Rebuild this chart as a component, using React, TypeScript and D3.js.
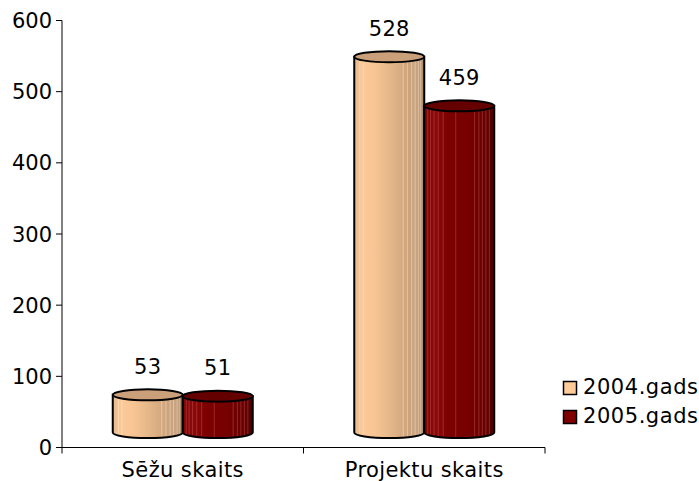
import React from "react";
import * as d3 from "d3";

const categories = ["Sēžu skaits", "Projektu skaits"];
const seriesNames = ["2004.gads", "2005.gads"];
const values2004 = [53, 528];
const values2005 = [51, 459];
const yTicks = [0, 100, 200, 300, 400, 500, 600];

const W = 699;
const H = 481;
const FONT = "'DejaVu Sans', Verdana, sans-serif";

const seriesStyle = [
  {
    id: "g2004",
    top: "#C9A07A",
    legend: "#FFCC99",
    stops: [
      [0, "#E2B78D"],
      [0.12, "#FCCA98"],
      [0.3, "#F7C593"],
      [0.55, "#E1B487"],
      [0.78, "#CCA37C"],
      [0.9, "#C8A380"],
      [1, "#A88868"],
    ],
    stripe: "rgba(255,236,214,0.55)",
    stripes: [0.08, 0.13, 0.7, 0.76, 0.82, 0.87, 0.92, 0.95],
  },
  {
    id: "g2005",
    top: "#650000",
    legend: "#800000",
    stops: [
      [0, "#7E0404"],
      [0.15, "#8A0A0A"],
      [0.35, "#7C0000"],
      [0.65, "#760000"],
      [0.85, "#680000"],
      [1, "#4E0000"],
    ],
    stripe: "rgba(205,90,90,0.55)",
    stripes: [0.05, 0.09, 0.14, 0.2, 0.27, 0.45, 0.72, 0.78, 0.83, 0.88, 0.93],
  },
];

export default function App() {
  const y = d3.scaleLinear().domain([0, 600]).range([447.5, 20.5]);
  const x = d3.scaleBand().domain(categories).range([62, 545]).padding(0);
  const inner = d3.scaleBand().domain(seriesNames).range([-70, 70]).padding(0);
  const seriesValues = [values2004, values2005];
  const depth = 15;
  const ry = 5.5;

  const bars: React.ReactNode[] = [];
  categories.forEach((cat, ci) => {
    const cx0 = x(cat)! + x.bandwidth() / 2;
    seriesNames.forEach((s, si) => {
      const v = seriesValues[si][ci];
      const st = seriesStyle[si];
      const x0 = cx0 + inner(s)!;
      const x1 = x0 + inner.bandwidth();
      const rx = (x1 - x0) / 2;
      const cx = (x0 + x1) / 2;
      const topY = y(v) - depth;
      const botY = y(0) - depth;
      const body = `M${x0},${topY} L${x0},${botY} A${rx},${ry} 0 0 0 ${x1},${botY} L${x1},${topY} Z`;
      bars.push(
        <g key={`${cat}-${s}`}>
          <path d={body} fill={`url(#${st.id})`} stroke="none" />
          {st.stripes.map((f, k) => {
            const sx = x0 + f * (x1 - x0);
            const dx = (sx - cx) / rx;
            const by = botY + ry * Math.sqrt(Math.max(0, 1 - dx * dx));
            return (
              <line key={k} x1={sx} x2={sx} y1={topY} y2={by - 1} stroke={st.stripe} strokeWidth={0.8} />
            );
          })}
          <path d={body} fill="none" stroke="#000" strokeWidth={2} />
          <ellipse cx={cx} cy={topY} rx={rx} ry={ry} fill={st.top} stroke="#000" strokeWidth={2} />
          <text x={cx} y={topY - 21} textAnchor="middle" fontFamily={FONT} fontSize={21} fill="#000" letterSpacing={0.3}>
            {v}
          </text>
        </g>
      );
    });
  });

  return (
    <svg width={W} height={H} style={{ position: "absolute", left: 0, top: 0, background: "#fff" }}>
      <defs>
        {seriesStyle.map((st) => (
          <linearGradient key={st.id} id={st.id} x1="0" x2="1" y1="0" y2="0">
            {st.stops.map(([o, c], i) => (
              <stop key={i} offset={o as number} stopColor={c as string} />
            ))}
          </linearGradient>
        ))}
      </defs>
      {/* y axis */}
      <line x1={62} x2={62} y1={y(600)} y2={y(0)} stroke="#000" strokeWidth={1} />
      {yTicks.map((t) => (
        <g key={t}>
          <line x1={56} x2={62} y1={y(t)} y2={y(t)} stroke="#000" strokeWidth={1} />
          <text x={52} y={y(t) + 7.5} textAnchor="end" fontFamily={FONT} fontSize={21} fill="#000">
            {t}
          </text>
        </g>
      ))}
      {/* x axis */}
      <line x1={62} x2={545} y1={y(0)} y2={y(0)} stroke="#000" strokeWidth={1} />
      {[62, ...categories.map((c) => x(c)! + x.bandwidth())].map((tx, i) => (
        <line key={i} x1={tx} x2={tx} y1={y(0)} y2={y(0) + 6} stroke="#000" strokeWidth={1} />
      ))}
      {categories.map((c) => (
        <text key={c} x={x(c)! + x.bandwidth() / 2} y={477} textAnchor="middle" fontFamily={FONT} fontSize={21} fill="#000" letterSpacing={0.4}>
          {c}
        </text>
      ))}
      {bars}
      {/* legend */}
      {seriesNames.map((s, i) => (
        <g key={s}>
          <rect x={563.5} y={381.5 + i * 29} width={13} height={13} fill={seriesStyle[i].legend} stroke="#000" strokeWidth={1.5} />
          <text x={583} y={394 + i * 29} fontFamily={FONT} fontSize={21} fill="#000" letterSpacing={0.55}>
            {s}
          </text>
        </g>
      ))}
    </svg>
  );
}
